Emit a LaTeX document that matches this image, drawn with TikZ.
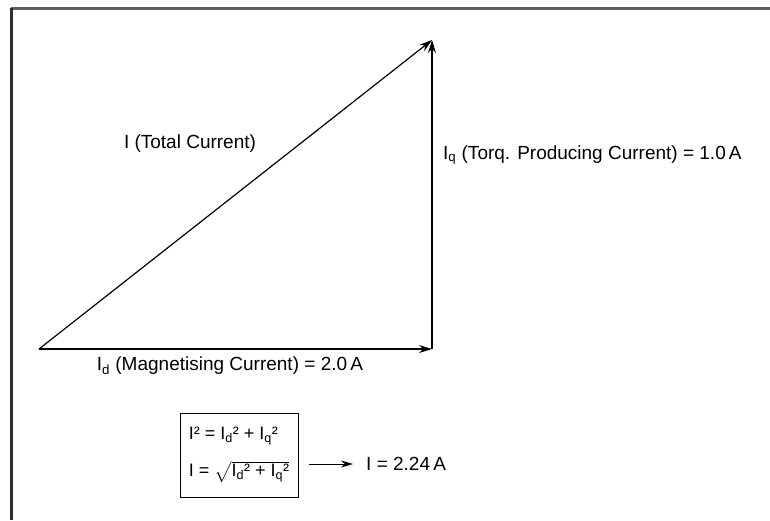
\documentclass[tikz,border=0pt]{standalone}
\usepackage{amsmath}
\usepackage{fontspec}
\setmainfont{Liberation Sans}
\usetikzlibrary{arrows.meta,positioning,calc}
\definecolor{FrameGray}{RGB}{95,95,95}
\definecolor{FrameDark}{RGB}{45,45,45}
\tikzset{
  vecline/.style={-{Stealth[length=13pt,width=8pt]},line width=1.2pt,draw=black},
  veclabel/.style={font=\fontsize{19}{23}\selectfont,inner sep=0pt},
  eqbox/.style={draw=black,line width=1pt,minimum width=118pt,minimum height=84pt,align=left,font=\fontsize{18}{22}\selectfont,inner sep=3pt},
  framepart/.style={line width=2.4pt}
}

\begin{document}
\begin{tikzpicture}[x=1pt,y=-1pt]
\useasboundingbox (0,0) rectangle (770,520);
% frame
\draw[framepart,draw=FrameGray] (10.5,8.5) -- (770,8.5);
\draw[framepart,draw=FrameDark] (11.5,8) -- (11.5,520);
% vectors
\coordinate (o) at (39,349);
\coordinate (p) at (432,349);
\coordinate (q) at (432,40);
\draw[vecline] (o) -- (p);
\draw[vecline] (p) -- (q);
\draw[vecline] (o) -- (q);
\node[veclabel] (itot) at (190,144) {I (Total Current)};
\node[veclabel,anchor=west] (iq) at (443,155) {I\textsubscript{q} (Torq. Producing Current) = 1.0\,A};
\node[veclabel] (id) at (230,366) {I\textsubscript{d} (Magnetising Current) = 2.0\,A};
% equations
\node[eqbox] (eqn) at (239,455) {I² = I\textsubscript{d}² + I\textsubscript{q}²\\[15pt]
I = $\sqrt{\text{I\textsubscript{d}² + I\textsubscript{q}²}}$};
\node[veclabel,anchor=west] (res) at (366,464) {I = 2.24\,A};
\draw[-{Stealth[length=12pt,width=7pt]},line width=1pt,shorten <=10pt,shorten >=13pt] (eqn.east |- res.west) -- (res.west);
\end{tikzpicture}
\end{document}
